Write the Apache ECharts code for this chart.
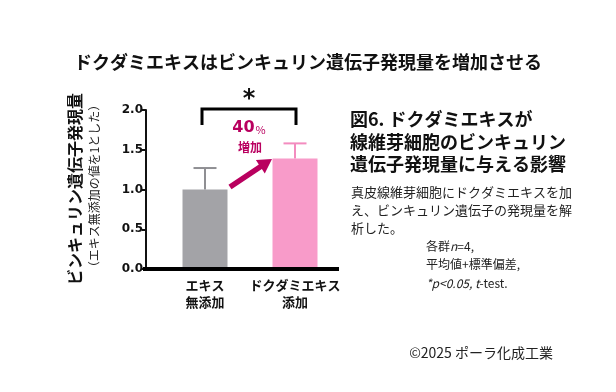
<!DOCTYPE html>
<html><head><meta charset="utf-8">
<script src="https://cdn.jsdelivr.net/npm/echarts@6/dist/echarts.min.js"></script>
<style>html,body{margin:0;padding:0;background:#fff}#c{width:616px;height:392px}</style>
</head><body><div id="c"></div>
<script>
const categories = ['エキス\n無添加', 'ドクダミエキス\n添加'];
const means = [1.0, 1.39];
const sd = [0.27, 0.19];
const barColors = ['#a3a3a7', '#f89bc9'];
const errColors = ['#8f8f93', '#f38cbf'];
const yMin = 0, yMax = 2, yStep = 0.5;

const JP = '"Noto Sans CJK JP", sans-serif';
const JPF = 'Noto Sans CJK JP';
const chart = echarts.init(document.getElementById('c'), null, {renderer: 'canvas'});

// arrow polygon helper (annotation)
function arrowPoints(x1, y1, x2, y2, shaftW, headW, headL) {
  const dx = x2 - x1, dy = y2 - y1, L = Math.hypot(dx, dy);
  const ux = dx / L, uy = dy / L, px = -uy, py = ux;
  const bx = x2 - ux * headL, by = y2 - uy * headL;
  return [
    [x1 + px * shaftW / 2, y1 + py * shaftW / 2],
    [bx + px * shaftW / 2, by + py * shaftW / 2],
    [bx + px * headW / 2, by + py * headW / 2],
    [x2, y2],
    [bx - px * headW / 2, by - py * headW / 2],
    [bx - px * shaftW / 2, by - py * shaftW / 2],
    [x1 - px * shaftW / 2, y1 - py * shaftW / 2]
  ];
}
const magenta = '#b9005f';

chart.setOption({
  animation: false,
  backgroundColor: '#fff',
  grid: {left: 160, right: 276, top: 110, bottom: 123},
  xAxis: {
    type: 'category', data: categories,
    axisLine: {show: false}, axisTick: {show: false},
    axisLabel: {interval: 0, color: '#111', fontFamily: JPF, fontWeight: 'bold', fontSize: 13, lineHeight: 17, margin: 8}
  },
  yAxis: {
    type: 'value', min: yMin, max: yMax, interval: yStep, offset: 14,
    axisLine: {show: true, lineStyle: {color: '#111', width: 2}},
    axisTick: {show: true, length: 4, lineStyle: {color: '#111', width: 2}},
    splitLine: {show: false},
    axisLabel: {color: '#111', fontFamily: 'DejaVu Sans', fontWeight: 'bold', fontSize: 12, margin: 3,
      formatter: v => v.toFixed(1)}
  },
  series: [
    {type: 'bar', data: means.map((v, i) => ({value: v, itemStyle: {color: barColors[i]}})), barWidth: 45, z: 2},
    {type: 'custom', z: 3,
      data: means.map((v, i) => [i, v, v + sd[i]]),
      renderItem: function (params, api) {
        const i = api.value(0);
        const b = api.coord([i, api.value(1)]);
        const t = api.coord([i, api.value(2)]);
        const c = errColors[params.dataIndex];
        return {type: 'group', children: [
          {type: 'line', shape: {x1: b[0], y1: b[1], x2: t[0], y2: t[1]}, style: {stroke: c, lineWidth: 2}},
          {type: 'line', shape: {x1: t[0] - 11.5, y1: t[1], x2: t[0] + 11.5, y2: t[1]}, style: {stroke: c, lineWidth: 2}}
        ]};
      }
    }
  ],
  graphic: [
    // x axis baseline
    {type: 'line', shape: {x1: 143, y1: 269, x2: 339, y2: 269}, style: {stroke: '#000', lineWidth: 4}, z: 10},
    // title
    {type: 'text', x: 308, y: 62, style: {text: 'ドクダミエキスはビンキュリン遺伝子発現量を増加させる', font: 'bold 18px ' + JP, fill: '#111', align: 'center', verticalAlign: 'middle'}},
    // y axis titles
    {type: 'text', x: 75, y: 189, rotation: Math.PI / 2, style: {text: 'ビンキュリン遺伝子発現量', font: 'bold 16px ' + JP, fill: '#111', align: 'center', verticalAlign: 'middle'}},
    {type: 'text', x: 94, y: 186, rotation: Math.PI / 2, style: {text: '（エキス無添加の値を1とした）', font: '12px ' + JP, fill: '#222', align: 'center', verticalAlign: 'middle'}},
    // significance bracket
    {type: 'polyline', shape: {points: [[202, 125], [202, 109], [296, 109], [296, 125]]}, style: {stroke: '#000', lineWidth: 3, fill: null}},
    {type: 'text', x: 249, y: 100, style: {text: '*', font: 'bold 24px "DejaVu Sans"', fill: '#111', align: 'center', verticalAlign: 'middle'}},
    // 40% increase
    {type: 'text', x: 249, y: 128, style: {text: '{a|40}{b|%}', align: 'center', verticalAlign: 'middle',
      rich: {a: {fontFamily: 'DejaVu Sans', fontWeight: 'bold', fontSize: 16, fill: magenta},
             b: {fontFamily: JPF, fontSize: 11, fill: magenta, padding: [3, 0, 0, 1]}}}},
    {type: 'text', x: 250, y: 147, style: {text: '増加', font: 'bold 12px ' + JP, fill: magenta, align: 'center', verticalAlign: 'middle'}},
    {type: 'polygon', shape: {points: arrowPoints(230, 187, 272, 159, 5.5, 16, 14)}, style: {fill: magenta}},
    // figure caption
    {type: 'text', x: 350, y: 119, style: {text: '図6. ドクダミエキスが', font: 'bold 18px ' + JP, fill: '#111', verticalAlign: 'middle'}},
    {type: 'text', x: 350, y: 142, style: {text: '線維芽細胞のビンキュリン', font: 'bold 18px ' + JP, fill: '#111', verticalAlign: 'middle'}},
    {type: 'text', x: 350, y: 164, style: {text: '遺伝子発現量に与える影響', font: 'bold 18px ' + JP, fill: '#111', verticalAlign: 'middle'}},
    {type: 'text', x: 351, y: 192, style: {text: '真皮線維芽細胞にドクダミエキスを加', font: '13px ' + JP, fill: '#222', verticalAlign: 'middle'}},
    {type: 'text', x: 351, y: 210, style: {text: 'え、ビンキュリン遺伝子の発現量を解', font: '13px ' + JP, fill: '#222', verticalAlign: 'middle'}},
    {type: 'text', x: 351, y: 228, style: {text: '析した。', font: '13px ' + JP, fill: '#222', verticalAlign: 'middle'}},
    {type: 'text', x: 426, y: 246, style: {text: '{r|各群}{i|n}{r|=4,}', verticalAlign: 'middle',
      rich: {r: {fontFamily: JPF, fontSize: 12, fill: '#222'}, i: {fontFamily: JPF, fontStyle: 'italic', fontSize: 12, fill: '#222'}}}},
    {type: 'text', x: 426, y: 264, style: {text: '平均値+標準偏差,', font: '12px ' + JP, fill: '#222', verticalAlign: 'middle'}},
    {type: 'text', x: 426, y: 283, style: {text: '{i|*p<0.05, t}{r|-test.}', verticalAlign: 'middle',
      rich: {r: {fontFamily: JPF, fontSize: 12, fill: '#222'}, i: {fontFamily: JPF, fontStyle: 'italic', fontSize: 12, fill: '#222'}}}},
    // copyright
    {type: 'text', x: 553, y: 353, style: {text: '©2025 ポーラ化成工業', font: '14px ' + JP, fill: '#222', align: 'right', verticalAlign: 'middle'}}
  ]
});
</script></body></html>
